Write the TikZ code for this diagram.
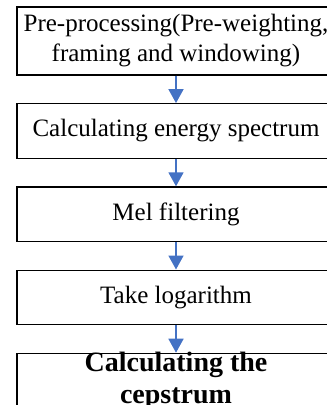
\documentclass[tikz,border=0pt]{standalone}
\usepackage{fontspec}
\setmainfont{Liberation Serif}
\usetikzlibrary{positioning, arrows.meta}
\definecolor{arrowblue}{RGB}{68,114,196}

\begin{document}
\begin{tikzpicture}[
    node distance=27.5pt,
    block/.style={
        rectangle,
        draw,
        line width=1.2pt,
        align=center,
        font=\fontsize{25}{30}\selectfont,
        minimum width=318pt,
        minimum height=54.5pt
    },
    arrow/.style={
        -{Triangle[length=14pt,width=15pt]},
        line width=1.8pt,
        draw=arrowblue,
        fill=arrowblue
    }
]

\clip (0,0) rectangle (327pt,-405pt);

\node[block, minimum height=68pt] (prep) at (176pt,-41pt) {Pre-processing(Pre-weighting,\\framing and windowing)};

\node[block, below=of prep] (energy) {Calculating energy spectrum};

\node[block, below=of energy] (mel) {Mel filtering};

\node[block, below=of mel] (logar) {Take logarithm};

\node[block, below=of logar] (cep) {};
\node[align=center, font=\fontsize{28}{31.5}\selectfont\bfseries] (ceptext) at (cep.center) {Calculating the\\cepstrum};

\draw[arrow] (prep) -- (energy);
\draw[arrow] (energy) -- (mel);
\draw[arrow] (mel) -- (logar);
\draw[arrow] (logar) -- (cep);

\end{tikzpicture}
\end{document}
